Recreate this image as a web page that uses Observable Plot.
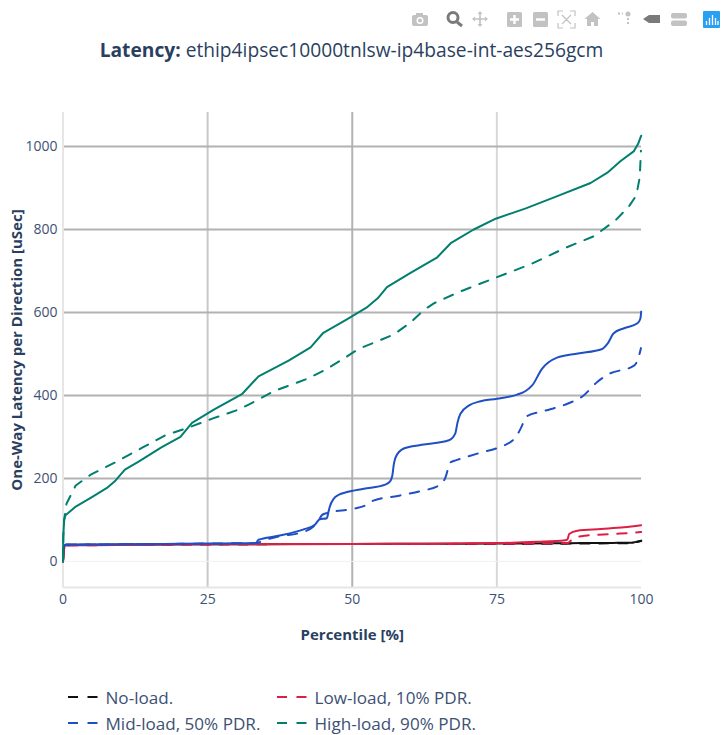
<!DOCTYPE html>
<html><head><meta charset="utf-8">
<script src="https://cdn.jsdelivr.net/npm/d3@7"></script>
<script src="https://cdn.jsdelivr.net/npm/@observablehq/plot@0.6"></script>
<style>
html,body{margin:0;padding:0;background:#fff}
#wrap{position:relative;width:725px;height:735px;overflow:hidden;font-family:"Open Sans",sans-serif;color:#2a3f5f}
#wrap svg{display:block}
#title{position:absolute;left:0;width:703px;text-align:center;top:37px;font-size:19.2px;line-height:26px;white-space:nowrap}
.leg{position:absolute;font-size:17.1px;line-height:22px;white-space:nowrap;color:#3d5173}
.swatch{position:absolute;width:30px;height:4px}
#chart{position:absolute;left:0;top:0}
#bar{position:absolute;left:0;top:0}
</style></head><body>
<div id="wrap"><div id="chart"></div><svg id="bar" width="725" height="32"></svg>
<div id="title"><b>Latency:</b> ethip4ipsec10000tnlsw-ip4base-int-aes256gcm</div>
<div id="legend"></div></div>
<script>
const xTicks = [0,25,50,75,100];
const yTicks = [0,200,400,600,800,1000];
const names = ["No-load.","Low-load, 10% PDR.","Mid-load, 50% PDR.","High-load, 90% PDR."];
const colors = ["#111111","#dc1f45","#1f4fc4","#007f6e"];

const noSolid = [[0,0],[0.05,20],[0.2,38],[0.5,40],[5,40],[20,41],[35,41.5],[50,42],[62,42.5],[75,43],[85,43.5],[90,44],[95,44.5],[98.3,45],[99,47],[99.95,50]];
const noDash = [[0,0],[0.05,20],[0.2,38],[0.5,40],[5,40],[20,41],[35,41.5],[50,42],[62,42],[75,42],[85,42.5],[90,43],[95,43.5],[98.3,44],[99,46],[99.95,49]];
const lowSolid = [[0,0],[0.1,15],[0.3,37],[0.6,38.5],[5,39],[15,40],[28,41],[40,42],[50,42],[60,42.5],[75,44],[82,47],[86.8,51],[87.2,53],[87.5,66],[88.9,74],[93,78],[97,82],[99.95,87]];
const lowDash = [[0,0],[0.1,15],[0.3,37],[0.6,38.5],[5,39],[15,40],[28,41],[40,42],[50,42],[60,42],[75,42.5],[83,43],[87.2,44],[87.8,50],[88.6,57],[90.3,62],[95,66],[98.6,69],[99.95,71]];
const midSolid = [[0,0],[0.05,20],[0.2,39],[0.5,40],[5,40.5],[10,41],[15,41.5],[25,43],[30,43.5],[33.3,44],[33.8,52],[37,61],[41.6,77],[43.6,89],[44.3,101],[45.6,104],[45.9,120],[46.1,131],[46.8,151],[47.6,160],[49.1,167],[52,175],[55.7,185],[56.5,192],[56.9,205],[57.2,235],[57.5,251],[58.9,272],[62,281],[66.7,292],[67.8,308],[68.2,335],[68.7,356],[70.2,376],[72.2,386],[75,392],[78.5,402],[79.9,410],[81.1,424],[82.8,464],[85.4,491],[89,501],[93.2,512],[94.1,524],[95.2,550],[97,562],[99.3,574],[99.8,585],[99.95,602]];
const midDash = [[0,0],[0.05,20],[0.2,39],[0.5,40],[5,40.5],[10,41],[15,41.5],[25,43],[30,43.5],[33.3,44],[35,52],[37.6,61],[41,69],[43.3,84],[44.2,100],[44.8,112],[45.7,117],[50.3,127],[52.3,135],[53.4,145],[58.3,159],[62,170],[65,183],[66.1,202],[66.6,225],[67,239],[68,244],[72.2,262],[75,273],[78.2,298],[79.1,320],[80.2,350],[83,362],[87.2,380],[90,400],[92.3,432],[94.3,451],[98.7,472],[99.5,492],[99.9,514]];
const highSolid = [[0,0],[0.05,60],[0.2,100],[0.43,111],[2.2,132],[5,155],[7.6,177],[9.1,195],[10.7,221],[13,240],[17,275],[20.3,300],[22.3,334],[26,365],[31,404],[33.8,446],[39,484],[42.8,516],[45,551],[49,583],[52.6,613],[54.4,634],[56,661],[60,695],[64.7,733],[67.1,768],[68.7,781],[71,800],[74.8,826],[80,851],[85,878],[91.2,912],[94.1,937],[96.4,965],[98.7,989],[99.4,1006],[99.95,1026]];
const highDash = [[0,0],[0.05,60],[0.2,100],[0.6,139],[2.2,183],[4.8,209],[9.1,239],[13.7,274],[17.7,304],[21.2,320],[25.8,344],[30.4,366],[32.1,378],[36.4,410],[42.2,440],[45.5,463],[48.3,487],[51.1,512],[57.2,547],[60,575],[62.4,606],[64.1,622],[68.4,649],[74.8,684],[80.8,716],[86.9,756],[91.8,784],[95.5,822],[97.8,855],[99.1,882],[99.7,926],[99.9,990]];

const series = [[noSolid,noDash],[lowSolid,lowDash],[midSolid,midDash],[highSolid,highDash]];
const curves = ["monotone-x","monotone-x","monotone-x","linear"];
const DASH = "9.5,9.5";
const dashOffset = [0,0,6,0];
const lineMarks = series.flatMap((s,i)=>[
  Plot.line(s[1],{x:d=>d[0],y:d=>d[1],stroke:colors[i],strokeWidth:2,strokeDasharray:DASH,strokeDashoffset:dashOffset[i],curve:curves[i]}),
  Plot.line(s[0],{x:d=>d[0],y:d=>d[1],stroke:colors[i],strokeWidth:2,curve:curves[i]})
]);
const gridC="#b2b2b2";
const gridX=["#c8c8c8","#b2b2b2","#d8d8d8"];
const tickC="#3d5173";
const plot = Plot.plot({
  width:725,height:735,marginLeft:62.5,marginRight:84,marginTop:112,marginBottom:148,
  style:{fontFamily:'"Open Sans",sans-serif',background:"#fff",color:"#2a3f5f",overflow:"visible"},
  x:{domain:[0,100],type:"linear"},
  y:{domain:[-63,1082],type:"linear"},
  marks:[
    ...xTicks.slice(1,4).map((t,i)=>Plot.ruleX([t],{stroke:gridX[i],strokeWidth:2})),
    Plot.ruleY(yTicks.slice(1),{stroke:gridC,strokeWidth:2}),
    Plot.ruleY([0],{stroke:"#f0f0f0",strokeWidth:1}),
    Plot.ruleX([0],{stroke:"#e6e6e6",strokeWidth:2}),
    Plot.ruleY([-63],{stroke:"#e6e6e6",strokeWidth:2}),
    ...lineMarks,
    Plot.axisX({ticks:xTicks,tickFormat:d=>String(d),tickSize:0,tickPadding:7,fontSize:14,stroke:"none",fill:tickC,
      label:"Percentile [%]",labelAnchor:"center",labelArrow:"none",labelOffset:52}),
    Plot.axisY({ticks:yTicks,tickFormat:d=>String(d),tickSize:0,tickPadding:5.5,fontSize:14,stroke:"none",fill:tickC,
      label:"One-Way Latency per Direction [uSec]",labelAnchor:"center",labelArrow:"none",labelOffset:52})
  ]
});
d3.select(plot).selectAll('[aria-label="x-axis label"] text, [aria-label="y-axis label"] text, [aria-label="x-axis label"], [aria-label="y-axis label"]')
  .attr("font-weight","700").attr("font-size",15).attr("fill","#2a3f5f");
document.getElementById("chart").append(plot);

// legend
const leg=document.getElementById("legend");
const lx=[68,277],ly=[697,723];
names.forEach((n,i)=>{
  const col=i%2,row=i>>1;
  const sw=document.createElementNS("http://www.w3.org/2000/svg","svg");
  sw.setAttribute("class","swatch");sw.setAttribute("width",30);sw.setAttribute("height",4);
  sw.style.left=lx[col]+"px";sw.style.top=(ly[row]-2)+"px";
  sw.innerHTML=`<line x1="0" x2="30" y1="2" y2="2" stroke="${colors[i]}" stroke-width="2" stroke-dasharray="10,9.5"/>`;
  leg.append(sw);
  const t=document.createElement("div");t.className="leg";t.textContent=n;
  t.style.left=(lx[col]+37.5)+"px";t.style.top=(ly[row]-10)+"px";leg.append(t);
});

// modebar
const g="#c2c2c2",k="#7a7a7a";
document.getElementById("bar").innerHTML=`
<rect x="412" y="15" width="16" height="11" rx="2" fill="${g}"/><rect x="416" y="13" width="7" height="3" fill="${g}"/><circle cx="420" cy="20.5" r="3.5" fill="#fff"/><circle cx="420" cy="20.5" r="2" fill="${g}"/>
<circle cx="453" cy="17.5" r="5" fill="none" stroke="${k}" stroke-width="3"/><line x1="457" y1="22" x2="462" y2="26" stroke="${k}" stroke-width="3"/>
<path d="M480 12v14M473 19h14" stroke="${g}" stroke-width="1.6"/><path d="M480 11l-2.5 3h5zM480 27l-2.5 -3h5zM472 19l3 -2.5v5zM488 19l-3 -2.5v5z" fill="${g}"/>
<rect x="507" y="12" width="15" height="15" rx="1.5" fill="${g}"/><path d="M510 19.5h9M514.5 15v9" stroke="#fff" stroke-width="2.4"/>
<rect x="533" y="12" width="15" height="15" rx="1.5" fill="${g}"/><path d="M536 19.5h9" stroke="#fff" stroke-width="2.4"/>
<path d="M558 16v-5h5M570 11h5v5M575 23v5h-5M563 28h-5v-5M562 15l9 9M571 15l-9 9" fill="none" stroke="${g}" stroke-width="1.2"/>
<path d="M592.5 12l8 7h-2.500v7h-4v-4h-3v4h-4v-7h-2.500z" fill="${g}"/>
<circle cx="628" cy="14" r="2.500" fill="${g}"/><path d="M618 13.500h5M628 18v8" stroke="${g}" stroke-width="2" stroke-dasharray="2,2"/>
<path d="M643 19l6 -4h11v8h-11z" fill="${k}"/>
<rect x="671" y="13" width="16" height="5.500" rx="2" fill="${g}"/><rect x="671" y="20.500" width="16" height="5.500" rx="2" fill="${g}"/>
<rect x="703" y="11" width="17" height="17" rx="1" fill="#2aa0f3"/><path d="M706.500 21v4M709.500 18v7M712.500 15v10M715.500 18v7M718 21v4" stroke="#fff" stroke-width="1.300"/>`;
</script></body></html>
